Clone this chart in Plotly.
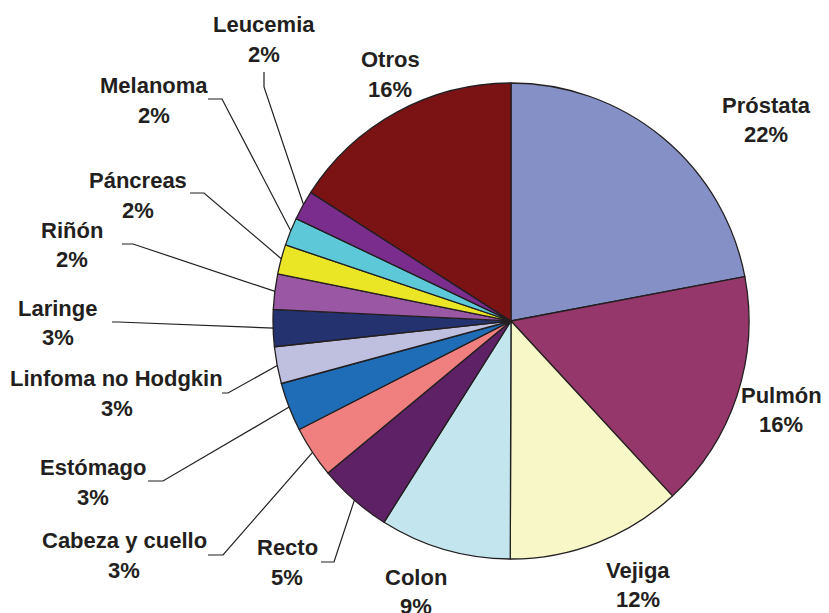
import math
import plotly.graph_objects as go

# ---- data ----
categories = ["Próstata", "Pulmón", "Vejiga", "Colon", "Recto", "Cabeza y cuello",
              "Estómago", "Linfoma no Hodgkin", "Laringe", "Riñón", "Páncreas",
              "Melanoma", "Leucemia", "Otros"]
values = [22.0, 16.1, 11.9, 8.9, 5.0, 3.5, 3.3, 2.5, 2.5, 2.4, 2.0, 1.9, 2.0, 15.9]
pct_labels = [22, 16, 12, 9, 5, 3, 3, 3, 3, 2, 2, 2, 2, 16]
colors = ["#8590C6", "#96376B", "#F7F7C8", "#C2E5EE", "#5F2166", "#F08080",
          "#1F6DB6", "#BFBFDF", "#243270", "#9A58A4", "#EAE626", "#5CC8D8",
          "#7A2D8C", "#7B1315"]

# ---- layout (page pixel coordinates; the page body has an 8px margin) ----
PAGE_W, PAGE_H, OFF = 829, 613, 8
W, H = PAGE_W - OFF, PAGE_H - OFF
CX, CY, R = 511, 321, 238
LINE_GAP = 29.5
# label (x centre, first-line y centre); leader: start point and knee
label_layout = {
    "Próstata": ((766, 105), None),
    "Pulmón": ((781, 395), None),
    "Vejiga": ((638, 570), None),
    "Colon": ((416, 577), None),
    "Recto": ((287, 547.5), ((321, 562), (334, 562))),
    "Cabeza y cuello": ((124, 540.5), ((208, 555), (223, 555))),
    "Estómago": ((93, 467.5), ((148, 481), (163, 481))),
    "Linfoma no Hodgkin": ((116.5, 378.5), ((222, 393), (228, 393))),
    "Laringe": ((57.5, 308), ((112, 322), (118, 322))),
    "Riñón": ((72, 230), ((122, 244), (133, 244))),
    "Páncreas": ((138, 180.5), ((190, 193), (204, 193))),
    "Melanoma": ((154, 85.5), ((208, 99), (222, 99))),
    "Leucemia": ((264, 24.5), ((264, 72), (264, 87))),
    "Otros": ((390, 59.5), None),
}
FONT = dict(family="Liberation Sans, Arial, sans-serif", size=22,
            color="#231F20", weight="bold")

fig = go.Figure()
fig.add_trace(go.Pie(
    labels=categories, values=values, sort=False, direction="clockwise",
    rotation=0, textinfo="none", showlegend=False,
    marker=dict(colors=colors, line=dict(color="#231F20", width=1.3)),
    domain=dict(x=[(CX - R - OFF) / W, (CX + R - OFF) / W],
                y=[1 - (CY + R - OFF) / H, 1 - (CY - R - OFF) / H]),
))

total = sum(values)
cum = 0.0
annotations = []
for name, v, p in zip(categories, values, pct_labels):
    mid = (cum + v / 2) / total * 2 * math.pi
    cum += v
    (lx, ly), leader = label_layout[name]
    for txt, yy in ((name, ly), (f"{p}%", ly + LINE_GAP)):
        annotations.append(dict(
            x=lx, y=yy, xref="x", yref="y", text=txt, showarrow=False,
            xanchor="center", yanchor="middle", font=FONT,
        ))
    if leader:
        ex = CX + (R - 1) * math.sin(mid)
        ey = CY - (R - 1) * math.cos(mid)
        (sx, sy), (kx, ky) = leader
        fig.add_trace(go.Scatter(
            x=[sx, kx, ex], y=[sy, ky, ey], mode="lines",
            line=dict(color="#231F20", width=1.2), showlegend=False, hoverinfo="skip",
        ))

fig.update_layout(
    width=W, height=H, margin=dict(l=0, r=0, t=0, b=0),
    paper_bgcolor="white", plot_bgcolor="rgba(0,0,0,0)",
    xaxis=dict(range=[OFF, PAGE_W], visible=False, fixedrange=True),
    yaxis=dict(range=[PAGE_H, OFF], visible=False, fixedrange=True),
    annotations=annotations,
)
fig.write_html("out.html")
